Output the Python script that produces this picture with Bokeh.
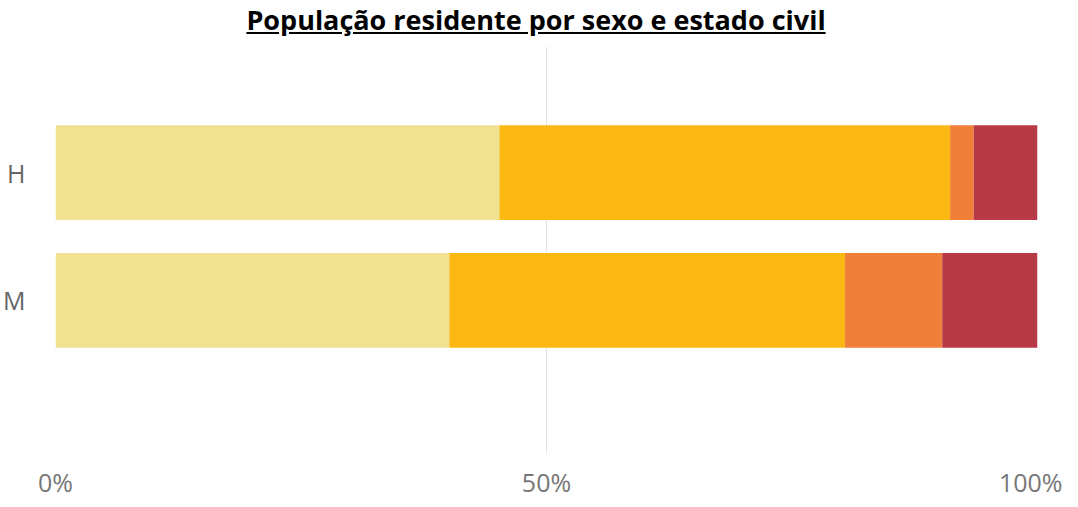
from bokeh.plotting import figure
from bokeh.models import Range1d, FixedTicker, PrintfTickFormatter, ColumnDataSource, Div
from bokeh.layouts import column
from bokeh.embed import file_html
from bokeh.resources import INLINE

title_text = "População residente por sexo e estado civil"
categories = ["H", "M"]
series = ["Solteiro", "Casado", "Viúvo", "Divorciado"]
solteiro = [45.2, 40.1]
casado = [45.9, 40.3]
viuvo = [2.4, 9.9]
divorciado = [6.5, 9.7]
colors = ["#F0E290", "#FDB913", "#F07F3A", "#B83A47"]
x_ticks = [0, 50, 100]

ypos = [len(categories) - i for i in range(len(categories))]
source = ColumnDataSource(dict(
    y=ypos, cat=categories,
    Solteiro=solteiro, Casado=casado, **{"Viúvo": viuvo}, Divorciado=divorciado,
))

title = Div(
    text="<u>" + title_text + "</u>", width=1062, height=32,
    styles={"font-family": "Open Sans", "font-weight": "bold", "font-size": "27px",
            "text-align": "center", "color": "#000000", "line-height": "30px"},
)

p = figure(width=1062, height=459, output_backend="svg", toolbar_location=None,
           x_range=Range1d(0, 100), y_range=Range1d(-0.199, 2.988),
           min_border_left=47, min_border_right=25, min_border_top=4, min_border_bottom=36)
p.outline_line_color = None
p.background_fill_color = "white"

p.hbar_stack(series, y="y", height=0.742, color=colors, line_color=None, source=source)

p.xaxis.ticker = FixedTicker(ticks=x_ticks)
p.xaxis.formatter = PrintfTickFormatter(format="%d%%")
p.xaxis.axis_line_color = None
p.xaxis.major_tick_line_color = None
p.xaxis.minor_tick_line_color = None
p.xaxis.major_label_text_font = "Open Sans"
p.xaxis.major_label_text_font_size = "25px"
p.xaxis.major_label_text_color = "#777777"
p.xaxis.major_label_standoff = 5

p.yaxis.ticker = FixedTicker(ticks=ypos)
p.yaxis.major_label_overrides = {y: c for y, c in zip(ypos, categories)}
p.yaxis.axis_line_color = None
p.yaxis.major_tick_line_color = None
p.yaxis.minor_tick_line_color = None
p.yaxis.major_label_text_font = "Open Sans"
p.yaxis.major_label_text_font_size = "25px"
p.yaxis.major_label_text_color = "#666666"
p.yaxis.major_label_standoff = 24

p.xgrid.grid_line_color = "#E3E3E3"
p.xgrid.grid_line_width = 1
p.ygrid.grid_line_color = None

layout = column(title, p, spacing=0)
open("out.html", "w").write(file_html(layout, INLINE))
